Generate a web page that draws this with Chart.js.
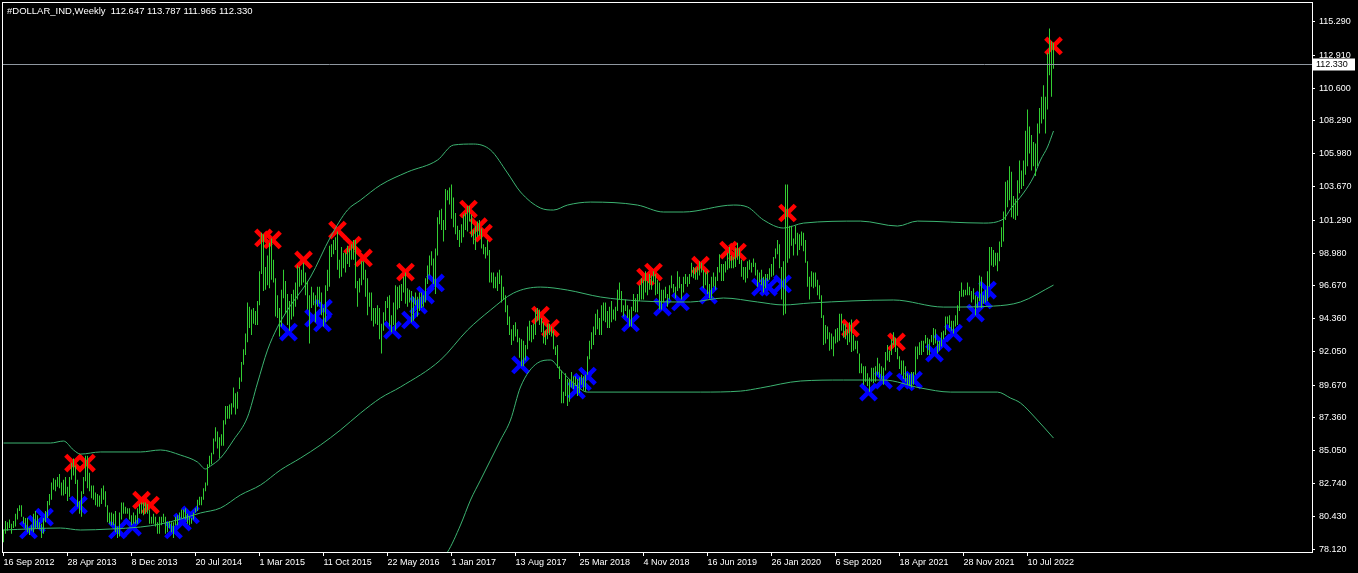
<!DOCTYPE html>
<html>
<head>
<meta charset="utf-8">
<script src="https://cdn.jsdelivr.net/npm/chart.js@4.4.1/dist/chart.umd.min.js"></script>
<style>
html, body { margin: 0; padding: 0; background: #000; overflow: hidden; }
#priceChart { display: block; }
</style>
</head>
<body>
<canvas id="priceChart" width="1358" height="573"></canvas>
<script>
// header text
const symbolName = '#DOLLAR_IND'
const periodName = 'Weekly'
const lastOHLC = [112.647, 113.787, 111.965, 112.330]

// date labels every 32 weekly bars, first bar = 16 Sep 2012
const dateLabels = ['16 Sep 2012', '28 Apr 2013', '8 Dec 2013', '20 Jul 2014', '1 Mar 2015', '11 Oct 2015',
  '22 May 2016', '1 Jan 2017', '13 Aug 2017', '25 Mar 2018', '4 Nov 2018', '16 Jun 2019', '26 Jan 2020',
  '6 Sep 2020', '18 Apr 2021', '28 Nov 2021', '10 Jul 2022']

const priceLabels = ['115.290', '112.910', '110.600', '108.290', '105.980', '103.670', '101.290', '98.980',
  '96.670', '94.360', '92.050', '89.670', '87.360', '85.050', '82.740', '80.430', '78.120']

// weekly highs / lows
const highs = [
  79.5,80.1,80.0,80.2,79.9,80.1,80.6,81.0,81.2,81.2,80.4,80.3,80.3,79.6,79.8,80.6,
  80.8,80.5,80.0,79.9,80.3,80.8,81.5,82.0,82.8,83.1,83.0,83.2,83.4,82.8,83.0,83.2,82.5,83.2,84.2,84.5,84.0,83.0,81.5,82.2,83.2,84.7,84.7,83.5,82.6,82.6,82.1,82.0,81.9,82.4,82.6,82.2,81.2,80.7,80.7,80.6,80.8,79.7,80.7,81.4,81.4,81.1,81.0,81.0,80.5,80.7,80.5,81.0,
  81.3,81.4,81.4,81.4,81.3,80.9,80.4,80.6,80.4,80.0,80.4,80.4,80.6,80.4,80.0,80.1,80.0,80.0,80.4,80.5,80.7,80.9,80.9,81.0,80.6,80.4,80.3,80.7,81.0,81.6,81.8,81.8,82.4,82.8,84.1,84.7,84.9,85.9,86.7,86.4,86.0,86.2,87.2,88.2,88.2,88.3,88.4,89.5,89.1,89.2,90.2,91.3,
  92.2,93.3,95.5,95.2,95.0,95.1,94.9,95.6,97.7,100.4,100.3,98.0,98.8,99.7,100.0,98.5,97.2,96.0,95.1,96.4,97.8,97.0,96.1,95.6,96.1,96.4,96.9,98.1,98.0,97.8,98.3,97.6,97.0,96.0,96.6,96.2,96.0,96.6,96.6,96.2,95.1,96.7,97.8,99.5,99.6,99.9,100.1,100.5,98.5,99.4,99.0,99.0,
  99.5,99.3,99.6,99.9,99.9,97.0,97.2,98.4,98.4,97.8,97.2,96.2,96.2,95.1,95.1,95.3,95.1,94.0,94.8,95.6,95.9,96.0,94.6,95.5,96.7,96.6,96.7,96.8,97.3,97.6,96.5,96.4,96.3,95.9,96.2,95.9,96.2,96.2,96.0,97.2,98.1,98.8,99.1,98.6,99.3,101.5,102.0,102.1,101.3,103.5,103.4,103.6,
  103.8,102.9,101.8,100.9,100.6,101.0,101.7,101.8,102.3,102.3,101.7,100.6,100.9,101.2,101.3,100.7,99.6,99.4,99.9,99.2,97.6,97.6,97.3,97.6,97.8,97.4,96.6,96.0,95.3,94.5,93.6,93.9,94.1,93.6,93.0,92.9,92.8,92.5,93.8,94.2,93.9,94.0,95.0,95.1,95.0,94.4,94.1,93.5,94.0,94.0,93.8,93.5,92.4,
  92.5,91.0,90.7,89.2,90.5,90.1,90.1,90.6,90.3,90.3,90.1,90.2,90.4,90.3,90.4,91.7,92.8,93.4,93.8,94.7,95.0,94.4,95.3,95.5,95.5,94.9,95.2,95.6,95.0,95.2,96.4,96.9,96.3,95.3,95.7,95.3,95.0,95.2,96.1,95.8,96.1,96.7,97.2,97.1,97.7,97.0,97.5,97.4,97.7,97.5,97.1,96.9,
  96.4,96.4,96.6,96.1,96.7,97.4,96.8,96.6,97.7,97.3,96.8,97.3,97.5,97.3,97.5,98.3,98.0,97.9,98.0,98.4,98.3,97.8,97.6,97.7,96.8,97.3,97.6,97.3,98.0,98.9,98.2,98.2,98.4,99.0,99.4,98.8,98.7,99.3,99.7,99.3,98.5,98.0,98.0,98.4,98.5,98.3,98.6,98.3,97.8,97.6,97.8,97.3,
  97.5,97.5,97.9,98.2,98.7,99.3,99.9,99.6,98.0,98.4,103.8,103.8,100.9,100.9,100.0,100.9,100.4,100.3,100.5,100.4,99.9,98.4,97.3,97.7,97.6,97.6,97.1,96.7,96.0,94.6,93.9,93.8,93.4,93.3,93.1,93.6,93.7,94.7,94.7,94.0,94.0,93.6,94.1,94.3,93.2,92.8,92.8,91.9,91.2,91.0,91.0,90.5,
  90.2,90.9,90.9,91.0,91.6,91.2,91.0,90.9,92.0,92.5,92.1,92.9,93.4,93.0,92.3,91.7,91.4,91.4,91.0,90.5,90.4,90.6,90.6,92.4,92.4,92.7,92.8,92.8,93.2,93.0,92.9,93.2,93.7,93.6,92.8,92.8,93.4,93.5,94.5,94.5,94.6,94.2,94.2,94.6,95.3,96.3,96.9,96.4,96.4,96.9,96.6,96.3,
  96.5,96.0,95.9,97.4,97.3,96.0,96.4,97.7,99.4,99.4,99.2,99.0,99.0,99.8,100.8,101.9,
  104.0,104.1,105.1,104.7,103.0,102.8,104.1,105.5,104.8,105.5,107.6,109.1,107.9,107.3,106.8,106.7,108.1,109.2,110.0,110.8,110.0,113.1,114.8,113.9,113.79
]
const lows = [
  78.6,79.2,79.4,79.6,79.2,79.6,79.7,80.2,80.8,80.4,79.9,79.6,79.3,79.1,79.4,79.3,
  79.6,79.6,79.6,78.9,79.2,80.0,80.3,81.2,81.6,82.3,82.2,82.5,82.4,81.9,81.9,82.0,81.5,81.8,83.0,83.3,82.7,81.1,80.6,80.4,82.0,82.9,82.4,82.2,81.7,81.6,81.2,81.1,81.1,81.3,81.6,81.1,80.0,79.9,79.8,79.8,79.3,78.9,79.0,80.2,80.6,80.6,80.6,80.2,79.8,79.9,79.9,79.9,
  80.6,80.6,80.5,80.6,80.6,79.9,79.9,79.9,79.7,79.2,79.2,79.8,80.0,79.2,79.3,79.6,79.3,78.9,79.8,79.8,80.2,80.3,80.3,80.2,79.9,79.8,79.9,80.2,80.7,80.8,81.2,81.2,81.6,82.2,82.6,83.9,84.1,84.8,85.7,85.2,84.5,85.4,85.4,86.9,87.3,87.3,87.6,88.1,87.6,88.0,89.4,89.9,
  91.1,91.8,92.7,93.7,93.2,94.0,93.9,93.9,95.3,97.5,96.3,96.4,96.7,96.5,97.1,96.9,94.5,94.4,93.1,93.8,95.8,94.7,93.9,93.5,94.3,94.5,95.2,95.7,96.6,96.7,96.9,96.0,95.0,92.6,95.1,95.3,94.1,95.2,95.4,94.6,93.8,94.1,96.3,96.6,98.7,98.9,99.2,97.8,97.2,97.3,97.9,97.6,
  98.2,98.0,98.5,98.5,96.5,95.2,96.2,96.7,97.1,95.9,94.6,95.2,94.2,93.8,94.0,93.9,92.9,91.9,93.5,94.2,95.1,93.8,93.4,93.9,93.5,95.0,95.1,95.6,96.2,95.4,95.2,95.5,94.1,94.2,95.3,94.5,94.9,95.1,95.2,95.5,96.8,97.4,98.1,96.8,96.1,98.8,101.0,100.6,99.8,100.6,102.7,102.4,
  101.4,100.8,100.3,99.9,99.4,99.7,100.1,100.6,100.5,101.2,100.1,99.6,99.2,100.1,100.2,99.3,98.9,98.6,98.8,96.9,96.9,96.5,96.5,96.3,96.8,95.5,95.7,94.8,93.9,93.2,92.5,92.8,93.1,92.7,91.6,91.0,91.0,91.4,92.2,92.8,92.7,92.9,93.2,94.2,93.9,93.4,92.6,92.5,92.9,93.2,93.1,92.2,91.8,
  90.9,90.1,88.4,88.4,88.9,88.2,88.5,89.5,89.4,89.6,88.9,89.1,89.7,89.3,89.2,90.4,91.5,92.2,92.5,93.2,93.6,93.2,93.2,94.2,94.1,93.7,93.7,94.1,94.3,94.2,94.9,95.7,94.8,94.5,94.9,94.4,93.8,93.8,94.9,94.8,94.8,95.6,95.7,95.7,96.2,96.0,96.4,96.4,96.9,96.0,96.1,95.0,
  95.0,95.5,95.8,95.2,95.7,96.5,96.2,95.8,96.3,96.5,95.7,96.2,96.8,96.6,96.8,97.3,97.2,97.1,97.1,97.4,97.6,96.5,96.7,96.1,95.8,95.8,96.6,96.4,97.0,97.6,97.0,97.0,97.6,97.8,97.9,97.9,97.9,98.0,98.5,98.2,97.3,97.1,96.9,97.2,97.8,97.6,98.0,97.4,96.6,96.9,96.7,96.2,
  96.5,97.0,97.1,97.3,97.4,98.6,98.9,97.9,95.7,94.6,94.7,98.3,98.6,99.5,98.8,99.6,98.8,99.2,99.5,99.1,98.3,96.6,95.7,96.6,96.5,96.6,96.0,95.7,94.4,92.5,92.6,92.9,92.1,92.2,91.7,92.6,92.7,92.8,93.5,93.0,92.9,92.5,92.7,92.0,92.1,92.2,91.9,90.5,90.5,89.7,89.9,89.6,
  89.2,89.9,89.8,89.9,90.4,90.2,90.1,89.7,90.7,91.4,91.3,91.8,92.5,92.0,91.5,90.8,90.4,90.1,89.9,89.7,89.6,89.5,89.7,90.4,91.5,91.8,91.8,92.0,92.6,91.8,91.8,92.7,92.5,92.6,91.9,92.1,92.4,92.9,93.2,94.0,93.7,93.5,93.3,93.8,93.9,94.9,95.9,95.9,96.0,96.0,96.0,95.5,
  95.7,94.6,95.1,95.6,95.1,95.4,95.5,95.6,96.6,98.1,98.0,98.1,97.7,98.4,99.4,99.8,
  101.3,102.2,102.7,101.5,101.4,101.3,101.6,103.2,103.5,103.7,104.5,105.1,106.0,104.8,105.1,104.4,105.1,107.4,108.1,108.4,107.4,109.1,111.5,110.0,111.97
]

// envelope lines (bar index, value)
const upperX = [0,23.5,30,35,38.5,48.5,68.5,78.5,88.5,97,101,103.5,108.5,115,122,127,132,137,142,153.5,163.5,172,178.5,188.5,202,217,225,235,243.5,252,258.5,268.5,275,282,293.5,317,330,340,365,372,380,390,400,428.5,447,457,490,500,503.5,510,515,518.5,522,525]
const upperY = [85.59,85.59,85.73,85.10,84.81,84.96,84.96,85.10,84.74,84.25,83.76,83.97,84.53,85.80,87.42,89.82,92.14,93.76,94.96,97.29,100.11,102.01,102.71,103.77,104.69,105.53,106.59,106.66,106.24,104.62,103.28,102.15,102.01,102.36,102.57,102.36,101.87,101.87,102.36,102.22,101.31,100.74,101.09,101.23,100.88,101.23,101.09,101.38,102.08,103.21,104.34,105.53,106.45,107.58]
const middleX = [0,28.5,38.5,53.5,68.5,78.5,88.5,98.5,108.5,118.5,128.5,138.5,148.5,158.5,168.5,178.5,188.5,198.5,218.5,232,243.5,255,268.5,282,298.5,318.5,343.5,360,377,390,403.5,445,470,495,508.5,525]
const middleY = [79.46,79.60,79.46,79.53,79.67,79.88,80.23,80.66,81.01,81.93,82.63,83.69,84.53,85.45,86.51,87.70,88.76,89.54,91.44,93.55,94.96,96.16,96.58,96.37,95.88,95.60,95.53,95.81,95.53,95.32,95.46,95.67,95.17,95.24,95.53,96.72]
const lowerX = [190,205,215,222,228.5,233.5,238.5,243.5,248.5,253.5,258.5,267,273.5,278.5,285,292,348.5,368.5,378.5,398.5,420,440,458.5,473.5,497,503.5,508.5,516,525]
const lowerY = [73.8,75.0,76.9,77.91,79.81,81.57,82.98,84.39,85.80,87.21,89.54,91.23,91.44,90.73,89.82,89.18,89.18,89.25,89.47,89.96,90.03,90.03,89.47,89.18,89.18,88.76,88.41,87.35,85.94]

// signal marks
const redX = [35,41.5,69,73.5,130,134.5,150,167,174.5,180,201,232.5,237.5,240,268.5,273.5,321,325,348.5,362.5,367,392,423.5,446.5,525]
const redY = [84.18,84.18,81.57,81.22,100.04,99.9,98.49,100.6,99.54,98.63,97.64,102.08,100.84,100.39,94.61,93.69,97.29,97.64,98.13,99.19,99.05,101.8,93.69,92.71,113.57]
const blueX = [12.5,16.5,20.5,37.5,57,64.5,85,89.5,93.5,142.5,155,159.5,160,194.5,203.5,207.5,211,216,258.5,286.5,289.5,292,313.5,329.5,338.5,352.5,378.5,382.5,389.5,432.5,440,451,455,465.5,469.5,475,486,490,492]
const blueY = [79.46,79.88,80.37,81.22,79.46,79.67,79.46,80.02,80.52,93.41,94.4,94.05,95.1,93.55,94.26,95.31,96.02,96.87,91.09,89.32,89.89,90.31,94.05,95.17,95.53,96.02,96.58,96.58,96.8,89.18,90.03,89.89,90.03,91.93,92.64,93.34,94.75,95.67,96.37]

const pts = (xs, ys) => xs.map((x, k) => ({x: x, y: ys[k]}))
const bars = highs.map((h, i) => ({x: i, y: [lows[i], h]}))

Chart.defaults.font.family = "'Liberation Sans', Arial, sans-serif"
Chart.defaults.font.size = 9
Chart.defaults.color = '#ffffff'

const terminal = {
    id: 'terminal',
    beforeDraw(chart) {
        const ctx = chart.ctx
        ctx.save()
        ctx.fillStyle = '#000000'
        ctx.fillRect(0, 0, chart.width, chart.height)
        ctx.restore()
    },
    afterDraw(chart) {
        const ctx = chart.ctx
        const a = chart.chartArea
        const y = chart.scales.y
        const close = lastOHLC[3]
        const py = Math.round(y.getPixelForValue(close)) + 0.5
        ctx.save()
        // last price line
        ctx.strokeStyle = '#8f979f'
        ctx.lineWidth = 1
        ctx.beginPath()
        ctx.moveTo(a.left, py)
        ctx.lineTo(a.right, py)
        ctx.stroke()
        // frame
        ctx.strokeStyle = '#ffffff'
        ctx.strokeRect(a.left + 0.5, a.top + 0.5, a.right - a.left, a.bottom - a.top)
        // price tag
        ctx.fillStyle = '#ffffff'
        ctx.fillRect(a.right + 1, py - 6, 42, 12)
        ctx.fillStyle = '#000000'
        ctx.font = "9px 'Liberation Sans', Arial, sans-serif"
        ctx.textBaseline = 'middle'
        ctx.fillText(close.toFixed(3), a.right + 4, py)
        // header
        ctx.fillStyle = '#ffffff'
        ctx.font = "9.5px 'Liberation Sans', Arial, sans-serif"
        ctx.textBaseline = 'alphabetic'
        ctx.fillText(symbolName + ',' + periodName + '  ' + lastOHLC.map(v => v.toFixed(3)).join(' '), 7, 14)
        ctx.restore()
    }
}

const CHART = document.getElementById('priceChart')
let priceChart = new Chart(CHART, {
    type: 'bar',
    data: {
        datasets: [
            {
                type: 'bar',
                data: bars,
                backgroundColor: '#32cd32',
                borderWidth: 0,
                barThickness: 1,
                inflateAmount: 0,
                grouped: false,
                order: 1
            },
            {
                type: 'line',
                data: pts(upperX, upperY),
                borderColor: '#3cb371',
                borderWidth: 1,
                pointRadius: 0,
                cubicInterpolationMode: 'monotone',
                order: 2
            },
            {
                type: 'line',
                data: pts(middleX, middleY),
                borderColor: '#3cb371',
                borderWidth: 1,
                pointRadius: 0,
                cubicInterpolationMode: 'monotone',
                order: 2
            },
            {
                type: 'line',
                data: pts(lowerX, lowerY),
                borderColor: '#3cb371',
                borderWidth: 1,
                pointRadius: 0,
                cubicInterpolationMode: 'monotone',
                order: 2
            },
            {
                type: 'scatter',
                data: pts(redX, redY),
                pointStyle: 'crossRot',
                pointRadius: 11,
                pointBorderWidth: 4.5,
                pointBorderColor: '#ff0000',
                pointBackgroundColor: '#ff0000',
                order: 3
            },
            {
                type: 'scatter',
                data: pts(blueX, blueY),
                pointStyle: 'crossRot',
                pointRadius: 11,
                pointBorderWidth: 4.5,
                pointBorderColor: '#0000ff',
                pointBackgroundColor: '#0000ff',
                order: 3
            }
        ]
    },
    options: {
        responsive: false,
        animation: false,
        events: [],
        layout: { autoPadding: false, padding: { left: 2, top: 2, right: 0, bottom: 0 } },
        plugins: { legend: { display: false }, tooltip: { enabled: false } },
        scales: {
            x: {
                type: 'linear',
                offset: false,
                min: -0.75,
                max: 654.25,
                border: { display: false },
                grid: { offset: false, drawOnChartArea: false, drawTicks: true, tickLength: 4, tickColor: '#ffffff' },
                ticks: {
                    autoSkip: false,
                    maxRotation: 0,
                    align: 'start',
                    padding: 1,
                    color: '#ffffff',
                    callback: (v) => dateLabels[v / 32]
                },
                afterBuildTicks: (s) => { s.ticks = dateLabels.map((d, k) => ({value: k * 32})) },
                afterFit: (s) => { s.height = 21; s.paddingLeft = 0; s.paddingRight = 0 }
            },
            y: {
                position: 'right',
                min: 77.91,
                max: 116.67,
                border: { display: false },
                grid: { drawOnChartArea: false, drawTicks: true, tickLength: 3, tickColor: '#ffffff' },
                ticks: {
                    autoSkip: false,
                    padding: 4,
                    color: '#ffffff',
                    callback: (v) => v.toFixed(3)
                },
                afterBuildTicks: (s) => { s.ticks = priceLabels.map(p => ({value: parseFloat(p)})) },
                afterFit: (s) => { s.width = 46; s.paddingTop = 0; s.paddingBottom = 0 }
            }
        }
    },
    plugins: [terminal]
})
</script>
</body>
</html>
